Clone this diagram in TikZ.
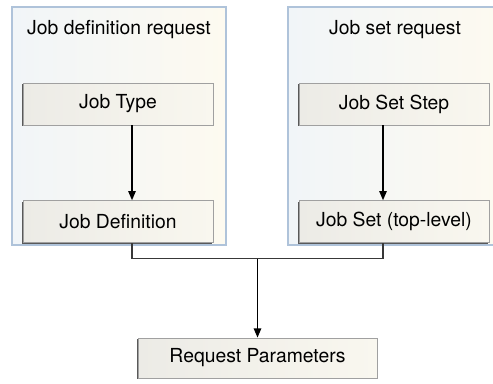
\documentclass[tikz,border=0pt]{standalone}
\usepackage{fontspec}
\setmainfont{TeX Gyre Heros}
\usepackage{xcolor}
\usetikzlibrary{arrows.meta,positioning,shadows,calc}
\definecolor{groupedge}{HTML}{AFC3DA}
\definecolor{groupleft}{HTML}{F1F5F8}
\definecolor{groupright}{HTML}{FDFAF0}
\definecolor{boxleft}{HTML}{ECEBE6}
\definecolor{boxright}{HTML}{F9F7EF}
\definecolor{boxedge}{HTML}{A0A0A0}
\definecolor{wiregray}{HTML}{383838}

\begin{document}
\begin{tikzpicture}[
        node distance=56.25pt,
        group/.style={
          draw=groupedge,
          line width=0.8pt,
          left color=groupleft,
          right color=groupright,
          minimum width=160.5pt,
          minimum height=178.5pt,
          inner sep=0pt,
          drop shadow={shadow xshift=-0.8pt,shadow yshift=-0.8pt,fill=black!45,opacity=1}
        },
        grouptitle/.style={
          font=\fontsize{14.5}{17}\selectfont,
          inner sep=0pt
        },
        box/.style={
          draw=boxedge,
          line width=0.5pt,
          left color=boxleft,
          right color=boxright,
          minimum width=142.5pt,
          minimum height=31.5pt,
          align=center,
          font=\fontsize{14.5}{17}\selectfont,
          inner sep=0pt,
          drop shadow={shadow xshift=-1.1pt,shadow yshift=-1.1pt,fill=black!65,opacity=1}
        },
        arrow/.style={
          -{Triangle[length=7pt,width=5.5pt]},
          line width=1.3pt,
          black
        },
        wire/.style={
          line width=0.8pt,
          wiregray
        }
      ]

      \useasboundingbox (0,0) rectangle (369.75pt,-287.25pt);

      % request groups
      \node[group] (leftgroup) at (89.25pt,-94.5pt) {};
      \node[group] (rightgroup) at (296.25pt,-94.5pt) {};
      \node[grouptitle] (lefttitle) at ([yshift=-17.5pt]leftgroup.north) {Job definition request};
      \node[grouptitle] (righttitle) at ([yshift=-17.5pt]rightgroup.north) {Job set request};

      \node[box] (jobtype) at (88.5pt,-78pt) {Job Type};
      \node[box, below=of jobtype] (jobdef) {Job Definition};
      \node[box] (jobsetstep) at (295.5pt,-78pt) {Job Set Step};
      \node[box, below=of jobsetstep] (jobset) {Job Set (top-level)};
      \node[box, minimum width=179.25pt, minimum height=30pt] (reqparams) at (193.125pt,-268.5pt) {Request Parameters};

      \draw[arrow] ([xshift=10.5pt]jobtype.south) -- ([xshift=10.5pt]jobdef.north);
      \draw[arrow] ([xshift=-8.25pt]jobsetstep.south) -- ([xshift=-8.25pt]jobset.north);

      % joining wires
      \coordinate (joint) at ($(reqparams.north)+(0,59.25pt)$);
      \draw[wire] ([xshift=10.5pt]jobdef.south) |- (joint) -| ([xshift=-8.25pt]jobset.south);
      \draw[arrow] (joint) -- (reqparams.north);

      \end{tikzpicture}
\end{document}
